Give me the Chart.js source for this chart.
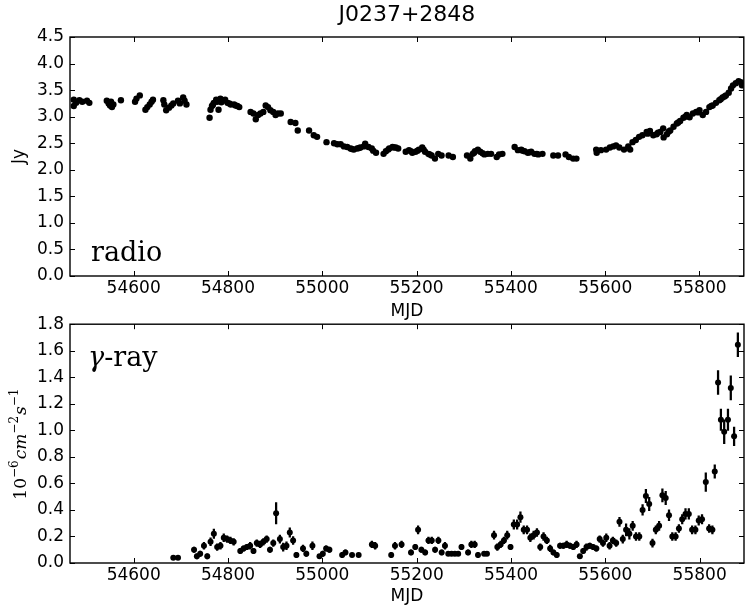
<!DOCTYPE html>
<html>
<head>
<meta charset="utf-8">
<script src="https://cdn.jsdelivr.net/npm/chart.js@4.4.0/dist/chart.umd.min.js"></script>
<style>
  body { margin: 0; background: #fff; width: 747px; height: 608px; overflow: hidden; position: relative; }
  #radio { position: absolute; left: 0; top: 0; }
  #gamma { position: absolute; left: 0; top: 308px; }
</style>
</head>
<body>
<canvas id="radio" width="747" height="320"></canvas>
<canvas id="gamma" width="747" height="300"></canvas>
<script>
// MJD axis ticks, shared by both panels
const mjdTicks = [54600, 54800, 55000, 55200, 55400, 55600, 55800];
const radioTicks = [0, 0.5, 1, 1.5, 2, 2.5, 3, 3.5, 4, 4.5];
const gammaTicks = [0, 0.2, 0.4, 0.6, 0.8, 1.0, 1.2, 1.4, 1.6, 1.8];

// radio light curve (Jy)
const radioMjd = [54473, 54473, 54478, 54485, 54491, 54501, 54506, 54543, 54547, 54550, 54552, 54554, 54557, 54573,
  54603, 54606, 54613, 54625, 54629, 54634, 54638, 54641, 54663, 54665, 54669, 54675, 54680, 54684,
  54694, 54698, 54705, 54708, 54712, 54761, 54763, 54766, 54768, 54770, 54775, 54777, 54780, 54784, 54786,
  54789, 54794, 54799, 54803, 54806, 54813, 54816, 54820, 54824, 54848, 54854, 54859, 54864, 54869, 54875,
  54880, 54885, 54890, 54896, 54901, 54906, 54912, 54933, 54943, 54948, 54972, 54982, 54989, 55009,
  55025, 55032, 55039, 55046, 55053, 55060, 55063, 55067, 55074, 55078, 55081, 55088, 55091, 55098, 55105,
  55108, 55114, 55130, 55135, 55140, 55142, 55149, 55152, 55156, 55161, 55177, 55184, 55188, 55191, 55198,
  55202, 55205, 55212, 55215, 55218, 55225, 55228, 55232, 55239, 55246, 55253, 55268, 55277, 55307, 55314,
  55319, 55322, 55324, 55330, 55335, 55340, 55344, 55351, 55358, 55370, 55375, 55382, 55408, 55415, 55422,
  55425, 55429, 55436, 55440, 55443, 55450, 55455, 55458, 55467, 55490, 55500, 55516, 55523, 55532, 55539,
  55581, 55582, 55591, 55602, 55610, 55617, 55623, 55630, 55640, 55649, 55653, 55658, 55665, 55672, 55679,
  55688, 55690, 55695, 55702, 55709, 55712, 55717, 55723, 55724, 55731, 55735, 55738, 55745, 55752, 55755,
  55759, 55766, 55770, 55773, 55779, 55786, 55793, 55797, 55800, 55807, 55814, 55821, 55825, 55828, 55835,
  55842, 55845, 55849, 55853, 55856, 55862, 55867, 55871, 55877, 55883, 55888, 55890];
const radioJy = [3.32, 3.20, 3.26, 3.31, 3.28, 3.30, 3.26, 3.30, 3.25, 3.21, 3.28, 3.18, 3.23, 3.31,
  3.28, 3.34, 3.40, 3.13, 3.18, 3.23, 3.28, 3.32, 3.31, 3.23, 3.12, 3.17, 3.21, 3.25,
  3.30, 3.25, 3.36, 3.30, 3.23, 2.98, 3.13, 3.20, 3.22, 3.26, 3.32, 3.28, 3.13, 3.34, 3.27,
  3.30, 3.32, 3.26, 3.25, 3.23, 3.23, 3.21, 3.20, 3.18, 3.09, 3.06, 2.95, 3.03, 3.06, 3.09,
  3.21, 3.18, 3.12, 3.09, 3.03, 3.06, 3.06, 2.90, 2.88, 2.74, 2.74, 2.65, 2.62, 2.52,
  2.50, 2.48, 2.48, 2.44, 2.43, 2.40, 2.39, 2.38, 2.40, 2.41, 2.42, 2.44, 2.49, 2.43, 2.40,
  2.36, 2.32, 2.30, 2.35, 2.38, 2.40, 2.43, 2.42, 2.42, 2.40, 2.34, 2.37, 2.35, 2.32, 2.34,
  2.36, 2.38, 2.42, 2.38, 2.34, 2.30, 2.29, 2.27, 2.21, 2.30, 2.27, 2.27, 2.24, 2.27, 2.21,
  2.30, 2.32, 2.35, 2.38, 2.34, 2.31, 2.29, 2.30, 2.30, 2.24, 2.29, 2.30, 2.43, 2.37, 2.38,
  2.36, 2.35, 2.32, 2.33, 2.34, 2.30, 2.30, 2.29, 2.30, 2.27, 2.27, 2.29, 2.24, 2.21, 2.21,
  2.38, 2.32, 2.37, 2.38, 2.42, 2.44, 2.46, 2.42, 2.38, 2.44, 2.38, 2.52, 2.56, 2.62, 2.65,
  2.71, 2.68, 2.73, 2.65, 2.67, 2.70, 2.71, 2.78, 2.61, 2.67, 2.72, 2.74, 2.81, 2.87, 2.89,
  2.92, 2.98, 3.00, 3.03, 2.99, 3.06, 3.09, 3.08, 3.12, 3.03, 3.09, 3.18, 3.20, 3.21, 3.26,
  3.31, 3.33, 3.36, 3.38, 3.40, 3.45, 3.53, 3.59, 3.63, 3.67, 3.65, 3.59];

// gamma-ray light curve (1e-6 ph cm^-2 s^-1) with 1-sigma errors
const gammaMjd = [54684, 54694, 54728, 54734, 54741, 54749, 54756, 54763, 54770, 54777, 54784, 54791, 54798,
  54805, 54812, 54826, 54833, 54840, 54847, 54854, 54861, 54868, 54875, 54882, 54889, 54896, 54902, 54910,
  54917, 54924, 54931, 54938, 54945, 54959, 54966, 54979, 54994, 55001, 55008, 55015, 55042, 55049, 55063,
  55077, 55105, 55112, 55146, 55154, 55168, 55188, 55197, 55203, 55210, 55218, 55225, 55232, 55239, 55246,
  55253, 55260, 55267, 55274, 55281, 55288, 55295, 55309, 55316, 55323, 55330, 55343, 55349, 55364, 55371,
  55378, 55385, 55392, 55399, 55406, 55413, 55420, 55427, 55434, 55441, 55448, 55455, 55462, 55469, 55476,
  55483, 55490, 55497, 55504, 55511, 55518, 55525, 55532, 55539, 55546, 55553, 55560, 55567, 55574, 55581,
  55588, 55595, 55602, 55609, 55616, 55623, 55630, 55637, 55644, 55651, 55658, 55665, 55672, 55679, 55686,
  55693, 55700, 55707, 55714, 55721, 55728, 55735, 55742, 55749, 55756, 55763, 55770, 55777, 55784, 55791,
  55798, 55805, 55813, 55820, 55827, 55832, 55839, 55845, 55852, 55860, 55866, 55873, 55881];
const gammaFlux = [0.04, 0.04, 0.10, 0.05, 0.07, 0.13, 0.05, 0.16, 0.22, 0.12, 0.13, 0.19, 0.18,
  0.17, 0.16, 0.09, 0.11, 0.12, 0.13, 0.09, 0.15, 0.14, 0.16, 0.18, 0.10, 0.15, 0.375, 0.18,
  0.12, 0.13, 0.23, 0.17, 0.06, 0.11, 0.07, 0.13, 0.05, 0.07, 0.11, 0.10, 0.06, 0.08, 0.06,
  0.06, 0.14, 0.13, 0.06, 0.13, 0.14, 0.08, 0.12, 0.25, 0.10, 0.08, 0.17, 0.17, 0.10, 0.17,
  0.08, 0.13, 0.07, 0.07, 0.07, 0.07, 0.12, 0.08, 0.14, 0.14, 0.06, 0.07, 0.07, 0.21, 0.12,
  0.14, 0.17, 0.21, 0.12, 0.29, 0.29, 0.345, 0.25, 0.25, 0.19, 0.21, 0.23, 0.12, 0.20, 0.17,
  0.11, 0.08, 0.06, 0.13, 0.13, 0.14, 0.13, 0.12, 0.14, 0.05, 0.09, 0.12, 0.13, 0.12, 0.11,
  0.18, 0.15, 0.19, 0.13, 0.17, 0.15, 0.31, 0.18, 0.25, 0.22, 0.28, 0.20, 0.20, 0.40, 0.505,
  0.445, 0.15, 0.25, 0.28, 0.51, 0.49, 0.36, 0.20, 0.20, 0.26, 0.33, 0.37, 0.37, 0.25, 0.25,
  0.32, 0.33, 0.61, 0.26, 0.25, 0.69, 1.36, 1.08, 0.99, 1.08, 1.32, 0.955, 1.645];
const gammaErr = [0.01, 0.01, 0.02, 0.02, 0.02, 0.025, 0.02, 0.03, 0.035, 0.025, 0.025, 0.03, 0.025,
  0.025, 0.025, 0.02, 0.02, 0.02, 0.025, 0.02, 0.025, 0.025, 0.025, 0.025, 0.02, 0.025, 0.08, 0.03,
  0.03, 0.03, 0.035, 0.03, 0.02, 0.025, 0.02, 0.03, 0.015, 0.02, 0.02, 0.02, 0.02, 0.02, 0.015,
  0.015, 0.025, 0.025, 0.02, 0.025, 0.025, 0.02, 0.02, 0.03, 0.02, 0.02, 0.025, 0.025, 0.02, 0.025,
  0.02, 0.025, 0.015, 0.015, 0.015, 0.015, 0.02, 0.02, 0.025, 0.025, 0.02, 0.015, 0.015, 0.03, 0.025,
  0.025, 0.025, 0.03, 0.02, 0.035, 0.035, 0.04, 0.03, 0.03, 0.03, 0.03, 0.03, 0.025, 0.03, 0.025,
  0.025, 0.02, 0.02, 0.02, 0.02, 0.025, 0.02, 0.02, 0.025, 0.015, 0.02, 0.025, 0.02, 0.02, 0.02,
  0.025, 0.025, 0.03, 0.025, 0.025, 0.025, 0.035, 0.03, 0.045, 0.04, 0.035, 0.03, 0.03, 0.04, 0.05,
  0.05, 0.03, 0.03, 0.035, 0.05, 0.05, 0.04, 0.03, 0.03, 0.03, 0.035, 0.04, 0.04, 0.03, 0.03,
  0.035, 0.035, 0.07, 0.03, 0.03, 0.05, 0.09, 0.08, 0.09, 0.08, 0.09, 0.07, 0.09];

const sans = "'DejaVu Sans', sans-serif";
const serif = "'DejaVu Serif', serif";

// matplotlib style frame: box round the plot, ticks pointing inwards on all four sides
const frame = {
  id: 'frame',
  afterDraw(chart) {
    const { ctx, chartArea: a, scales: { x, y } } = chart;
    ctx.save();
    ctx.strokeStyle = '#000';
    ctx.lineWidth = 1;
    ctx.beginPath();
    x.ticks.forEach(t => {
      const p = Math.round(x.getPixelForValue(t.value)) + 0.5;
      ctx.moveTo(p, a.bottom); ctx.lineTo(p, a.bottom - 5);
      ctx.moveTo(p, a.top); ctx.lineTo(p, a.top + 5);
    });
    y.ticks.forEach(t => {
      const p = Math.round(y.getPixelForValue(t.value)) + 0.5;
      ctx.moveTo(a.left, p); ctx.lineTo(a.left + 5, p);
      ctx.moveTo(a.right, p); ctx.lineTo(a.right - 5, p);
    });
    ctx.stroke();
    ctx.lineWidth = 1.4;
    ctx.strokeRect(a.left, a.top, a.right - a.left, a.bottom - a.top);
    ctx.restore();
  }
};

// panel name written inside the plot
const panelName = {
  id: 'panelName',
  afterDraw(chart, args, opts) {
    const { ctx, chartArea: a } = chart;
    ctx.save();
    ctx.fillStyle = '#000';
    ctx.textBaseline = 'alphabetic';
    let x = a.left + opts.dx;
    const y = opts.fromTop ? a.top + opts.dy : a.bottom - opts.dy;
    opts.parts.forEach(p => {
      ctx.font = (p.italic ? 'italic ' : '') + '27px ' + serif;
      ctx.fillText(p.text, x, y);
      x += ctx.measureText(p.text).width;
    });
    ctx.restore();
  }
};

// rotated y label with superscripts
const unitParts = [
  { text: '10', kind: 'n' }, { text: '\u22126', kind: 'sup' },
  { text: 'cm', kind: 'it' }, { text: '\u22122', kind: 'sup' },
  { text: 's', kind: 'it' }, { text: '\u22121', kind: 'sup' }
];
const unitLabel = {
  id: 'unitLabel',
  afterDraw(chart) {
    const { ctx, chartArea: a } = chart;
    const fontOf = k => k === 'sup' ? '12px ' + serif : (k === 'it' ? 'italic 17px ' + serif : '17px ' + serif);
    ctx.save();
    let total = 0;
    unitParts.forEach(p => { ctx.font = fontOf(p.kind); total += ctx.measureText(p.text).width + (p.kind === 'sup' ? 1 : 0); });
    ctx.translate(26, (a.top + a.bottom) / 2);
    ctx.rotate(-Math.PI / 2);
    ctx.fillStyle = '#000';
    ctx.textBaseline = 'alphabetic';
    let x = -total / 2;
    unitParts.forEach(p => {
      ctx.font = fontOf(p.kind);
      ctx.fillText(p.text, x, p.kind === 'sup' ? -8 : 0);
      x += ctx.measureText(p.text).width + (p.kind === 'sup' ? 1 : 0);
    });
    ctx.restore();
  }
};

function xScale(height, titlePad) {
  return {
    type: 'linear', min: 54465, max: 55894, offset: false,
    afterBuildTicks: s => { s.ticks = mjdTicks.map(v => ({ value: v })); },
    afterFit: s => { s.height = height; },
    grid: { display: false, drawTicks: false },
    border: { display: false },
    ticks: { padding: 2, color: '#000', font: { family: sans, size: 17 }, callback: v => String(v) },
    title: { display: true, text: 'MJD', color: '#000', font: { family: sans, size: 17, lineHeight: 1 }, padding: { top: 0, bottom: titlePad } }
  };
}

function yScale(max, ticks, title) {
  return {
    type: 'linear', min: 0, max: max,
    afterBuildTicks: s => { s.ticks = ticks.map(v => ({ value: v })); },
    afterFit: s => { s.width = 70; },
    grid: { display: false, drawTicks: false },
    border: { display: false },
    ticks: { padding: 6, color: '#000', font: { family: sans, size: 17 }, callback: v => v.toFixed(1) },
    title: title ? { display: true, text: title, color: '#000', font: { family: sans, size: 17, lineHeight: 1 }, padding: { top: 11, bottom: 0 } } : { display: false }
  };
}

new Chart(document.getElementById('radio'), {
  type: 'scatter',
  data: {
    datasets: [{
      label: 'radio',
      data: radioMjd.map((m, i) => ({ x: m, y: radioJy[i] })),
      backgroundColor: '#000', borderWidth: 0, pointRadius: 3.2, pointHoverRadius: 3.2
    }]
  },
  options: {
    responsive: false, animation: false,
    layout: { padding: { left: 0, right: 0, top: 0, bottom: 0 } },
    scales: { x: xScale(44, 0), y: yScale(4.5, radioTicks, 'Jy') },
    plugins: {
      legend: { display: false }, tooltip: { enabled: false },
      title: { display: true, fullSize: false, text: 'J0237+2848', color: '#000',
        font: { family: sans, size: 22, weight: 'normal', lineHeight: 1.2 }, padding: { top: 2, bottom: 8.6 } },
      panelName: { parts: [{ text: 'radio' }], dx: 21, dy: 15, fromTop: false }
    }
  },
  plugins: [frame, panelName]
});

new Chart(document.getElementById('gamma'), {
  type: 'scatter',
  data: {
    datasets: [{
      type: 'bar',
      label: 'error',
      data: gammaMjd.map((m, i) => ({ x: m, y: [gammaFlux[i] - gammaErr[i], gammaFlux[i] + gammaErr[i]] })),
      backgroundColor: '#000', barThickness: 1.6, grouped: false, order: 2
    }, {
      label: 'gamma',
      data: gammaMjd.map((m, i) => ({ x: m, y: gammaFlux[i] })),
      backgroundColor: '#000', borderWidth: 0, pointRadius: 3, pointHoverRadius: 3, order: 1
    }]
  },
  options: {
    responsive: false, animation: false,
    layout: { padding: { left: 0, right: 0, top: 15, bottom: 0 } },
    scales: { x: xScale(45, 2.5), y: yScale(1.8, gammaTicks, null) },
    plugins: {
      legend: { display: false }, tooltip: { enabled: false },
      panelName: { parts: [{ text: '\u03b3', italic: true }, { text: '-ray' }], dx: 18, dy: 42, fromTop: true }
    }
  },
  plugins: [frame, panelName, unitLabel]
});
</script>
</body>
</html>
